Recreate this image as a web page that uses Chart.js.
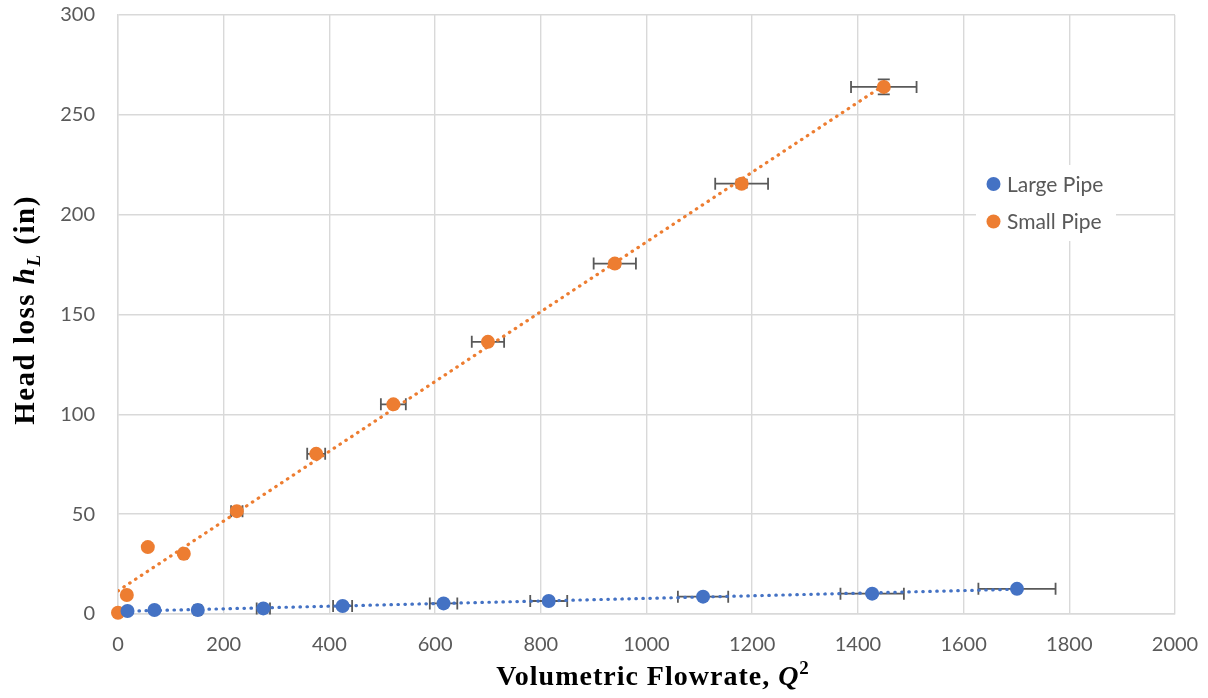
<!DOCTYPE html>
<html>
<head>
<meta charset="utf-8">
<script src="https://cdn.jsdelivr.net/npm/chart.js@4.4.1/dist/chart.umd.min.js"></script>
<style>
  html, body { margin: 0; padding: 0; background: #fff; }
  #wrap { width: 1208px; height: 698px; }
</style>
</head>
<body>
<div id="wrap"><canvas id="headloss-chart"></canvas></div>
<script>
// values
const large_x = [18, 69, 151, 275, 425, 616, 815, 1107, 1427, 1701];
const large_y = [1.5, 2, 2, 2.8, 4, 5.3, 6.5, 8.7, 10.2, 12.6];
const large_xerr = [0.8, 3, 6.5, 12.6, 18, 26, 35, 47.6, 60, 73];
const large_yerr = [0, 0, 0, 0, 0, 0, 0, 0, 0, 0];

const small_x = [0, 16.7, 56.4, 124.5, 224.8, 375, 521, 700, 940, 1180, 1449];
const small_y = [0.6, 9.5, 33.5, 30.2, 51.5, 80.2, 105, 136.3, 175.5, 215.5, 264];
const small_xerr = [0, 0.8, 2.7, 6, 10.8, 17, 23.6, 30.6, 40, 50, 62];
const small_yerr = [0, 0, 0, 0, 0, 0.5, 0.7, 1, 1.5, 2, 3.8];

// trendline end points
const large_trend_x = [0, 1701];
const large_trend_y = [1.3, 12.4];
const small_trend_x = [0, 1449];
const small_trend_y = [11.6, 264.8];

const x_ticks = { min: 0, max: 2000, step: 200 };
const y_ticks = { min: 0, max: 300, step: 50 };

const BLUE = "#4472C4";
const ORANGE = "#ED7D31";
const GRID = "#d9d9d9";
const TEXT = "#595959";

function pts(xs, ys) {
  return xs.map((x, i) => ({ x: x, y: ys[i] }));
}

// horizontal + vertical error bars
const errorBars = {
  id: "errorBars",
  beforeDatasetsDraw(chart) {
    const ctx = chart.ctx;
    const xs = chart.scales.x, ys = chart.scales.y;
    ctx.save();
    ctx.strokeStyle = TEXT;
    ctx.lineWidth = 1.8;
    chart.data.datasets.forEach((ds) => {
      if (!ds.errX) return;
      ds.data.forEach((p, i) => {
        const px = xs.getPixelForValue(p.x), py = ys.getPixelForValue(p.y);
        const ex = ds.errX[i] || 0, ey = ds.errY[i] || 0;
        const cap = 6;
        if (ex > 0) {
          const x1 = xs.getPixelForValue(p.x - ex), x2 = xs.getPixelForValue(p.x + ex);
          ctx.beginPath();
          ctx.moveTo(x1, py); ctx.lineTo(x2, py);
          ctx.moveTo(x1, py - cap); ctx.lineTo(x1, py + cap);
          ctx.moveTo(x2, py - cap); ctx.lineTo(x2, py + cap);
          ctx.stroke();
        }
        if (ey > 0) {
          const y1 = ys.getPixelForValue(p.y - ey), y2 = ys.getPixelForValue(p.y + ey);
          ctx.beginPath();
          ctx.moveTo(px, y1); ctx.lineTo(px, y2);
          ctx.moveTo(px - cap, y1); ctx.lineTo(px + cap, y1);
          ctx.moveTo(px - cap, y2); ctx.lineTo(px + cap, y2);
          ctx.stroke();
        }
      });
    });
    ctx.restore();
  },
};

// draws text made of pieces with different styles
function drawPieces(ctx, pieces, cx, cy) {
  let total = 0;
  pieces.forEach((p) => { ctx.font = p.font; p.w = ctx.measureText(p.t).width; total += p.w; });
  let x = cx - total / 2;
  pieces.forEach((p) => {
    ctx.font = p.font;
    ctx.fillText(p.t, x, cy + (p.dy || 0));
    x += p.w;
  });
}

const axisTitles = {
  id: "axisTitles",
  afterDraw(chart) {
    const ctx = chart.ctx;
    const serif = '"Liberation Serif", "Times New Roman", serif';
    ctx.save();
    ctx.fillStyle = "#000";
    ctx.textBaseline = "alphabetic";
    ctx.letterSpacing = "1px";
    drawPieces(ctx, [
      { t: "Volumetric Flowrate, ", font: "bold 28px " + serif },
      { t: "Q", font: "italic bold 28px " + serif },
      { t: "2", font: "bold 19px " + serif, dy: -11 },
    ], 653, 685);
    ctx.letterSpacing = "1.5px";
    ctx.translate(34, 310);
    ctx.rotate(-Math.PI / 2);
    drawPieces(ctx, [
      { t: "Head loss ", font: "bold 29px " + serif },
      { t: "h", font: "italic bold 29px " + serif },
      { t: "L", font: "italic bold 19px " + serif, dy: 6 },
      { t: " (in)", font: "bold 29px " + serif },
    ], 0, 0);
    ctx.restore();
  },
};

const boxLegend = {
  id: "boxLegend",
  afterDraw(chart) {
    const ctx = chart.ctx;
    ctx.save();
    ctx.fillStyle = "#fff";
    ctx.fillRect(976, 165, 140, 76);
    ctx.font = '21px Lato, "Open Sans", sans-serif';
    ctx.textBaseline = "middle";
    const items = chart.data.datasets.filter((d) => d.errX);
    items.forEach((d, i) => {
      const y = 184 + i * 37.5;
      ctx.fillStyle = d.backgroundColor;
      ctx.beginPath();
      ctx.arc(993.5, y, 7, 0, Math.PI * 2);
      ctx.fill();
      ctx.fillStyle = TEXT;
      ctx.fillText(d.label, 1007, y + 1);
    });
    ctx.restore();
  },
};

const tickFont = { family: 'Lato, "Open Sans", sans-serif', size: 20 };

const data_headloss = {
  datasets: [
    {
      label: "Large Pipe",
      data: pts(large_x, large_y),
      errX: large_xerr,
      errY: large_yerr,
      backgroundColor: BLUE,
      borderColor: BLUE,
      pointRadius: 7,
      pointBorderWidth: 0,
      clip: 10,
      order: 0,
    },
    {
      label: "Small Pipe",
      data: pts(small_x, small_y),
      errX: small_xerr,
      errY: small_yerr,
      backgroundColor: ORANGE,
      borderColor: ORANGE,
      pointRadius: 7,
      pointBorderWidth: 0,
      clip: 10,
      order: 0,
    },
    {
      label: "Large trend",
      data: pts(large_trend_x, large_trend_y),
      showLine: true,
      pointRadius: 0,
      borderColor: BLUE,
      borderWidth: 3.2,
      borderDash: [0.5, 6.5],
      borderCapStyle: "round",
      order: 1,
    },
    {
      label: "Small trend",
      data: pts(small_trend_x, small_trend_y),
      showLine: true,
      pointRadius: 0,
      borderColor: ORANGE,
      borderWidth: 3.2,
      borderDash: [0.5, 6.5],
      borderCapStyle: "round",
      order: 1,
    },
  ],
};

const config_headloss = {
  type: "scatter",
  data: data_headloss,
  options: {
    responsive: true,
    maintainAspectRatio: false,
    animation: false,
    layout: { padding: { top: 15, right: 33, left: 0, bottom: 0 } },
    plugins: {
      legend: { display: false },
      tooltip: { enabled: false },
    },
    scales: {
      x: {
        type: "linear",
        min: x_ticks.min,
        max: x_ticks.max,
        ticks: { stepSize: x_ticks.step, font: tickFont, color: TEXT, padding: 19, callback: (v) => String(v) },
        grid: { color: GRID, lineWidth: 1.4, drawTicks: false },
        border: { color: GRID, width: 1.4 },
        afterFit(scale) {
          scale.height = 84;
          scale.paddingLeft = 0;
          scale.paddingRight = 0;
        },
      },
      y: {
        type: "linear",
        min: y_ticks.min,
        max: y_ticks.max,
        ticks: { stepSize: y_ticks.step, font: tickFont, color: TEXT, padding: 23, callback: (v) => String(v) },
        grid: { color: GRID, lineWidth: 1.4, drawTicks: false },
        border: { color: GRID, width: 1.4 },
        afterFit(scale) {
          scale.width = 118;
          scale.paddingTop = 0;
          scale.paddingBottom = 0;
        },
      },
    },
  },
  plugins: [errorBars, axisTitles, boxLegend],
};

var ctx_headloss = document.getElementById("headloss-chart").getContext("2d");
var headlossChart = new Chart(ctx_headloss, config_headloss);
</script>
</body>
</html>
